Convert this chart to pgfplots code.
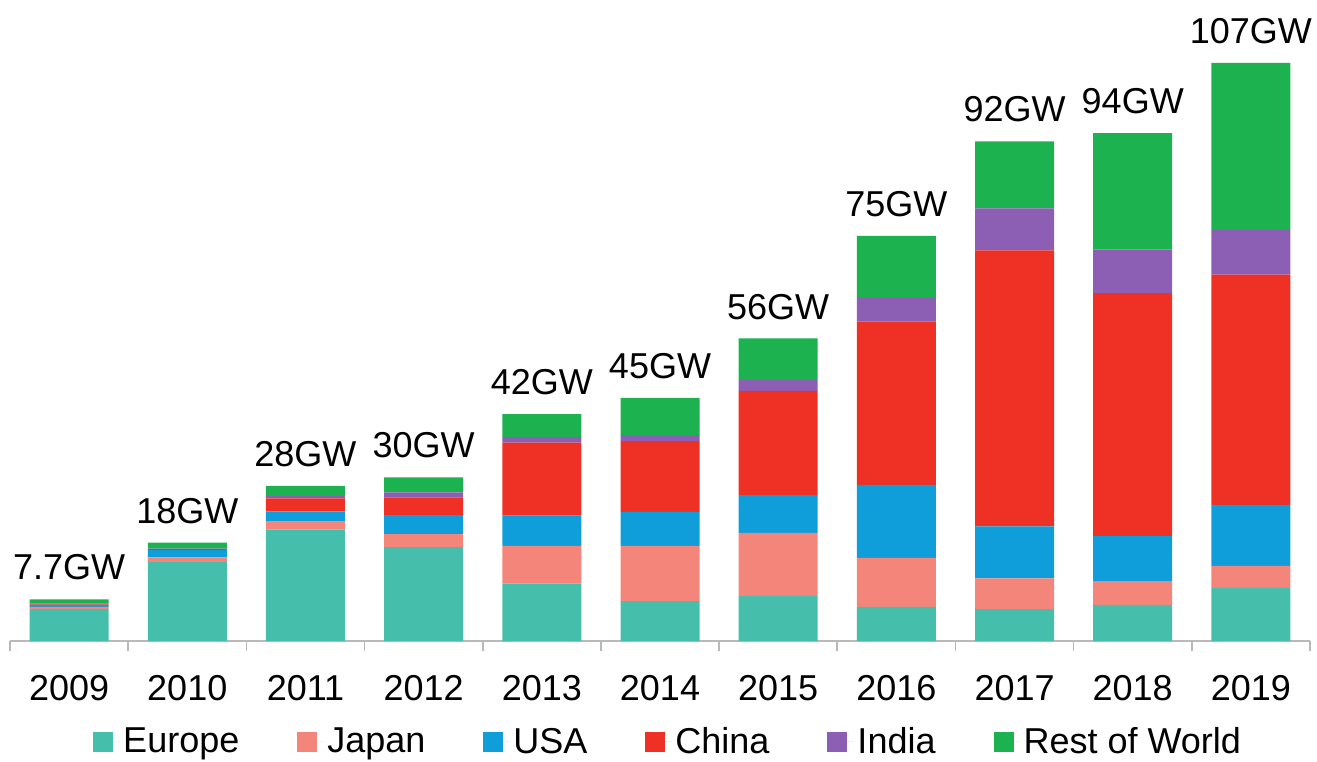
\documentclass[border=0pt]{standalone}
\usepackage{pgfplots}
\usepackage{pgfplotstable}
\usepackage{fontspec}
\setmainfont{Liberation Sans}
\pgfplotsset{compat=1.18}
\definecolor{cEU}{HTML}{45BFAC}
\definecolor{cJP}{HTML}{F3857A}
\definecolor{cUS}{HTML}{109EDA}
\definecolor{cCN}{HTML}{EE3124}
\definecolor{cIN}{HTML}{8C5EB4}
\definecolor{cRW}{HTML}{1CB250}
\pgfplotstableread{
x Europe Japan USA China India RoW Total label
0 5.9 0.4 0.4 0.1 0.1 0.8 7.7 7.7GW
1 14.6 0.9 1.3 0.2 0.1 1.1 18.2 18GW
2 20.6 1.5 1.9 2.4 0.4 1.9 28.7 28GW
3 17.4 2.4 3.5 3.3 0.9 2.8 30.3 30GW
4 10.6 7.0 5.6 13.5 1.1 4.2 42.0 42GW
5 7.4 10.2 6.3 13.1 1.1 6.9 45.0 45GW
6 8.3 11.7 7.0 19.3 2.0 7.7 56.0 56GW
7 6.3 9.1 13.5 30.2 4.4 11.5 75.0 75GW
8 5.9 5.7 9.6 51.1 7.8 12.4 92.5 92GW
9 6.7 4.4 8.3 45.0 8.1 21.5 94.0 94GW
10 9.8 4.1 11.3 42.6 8.3 30.9 107.0 107GW
}\data
\begin{document}
\begin{tikzpicture}
\useasboundingbox (-5pt,-60pt) rectangle (653.5pt,320.5pt);
\begin{axis}[
  at={(0,0)}, anchor=south west,
  scale only axis, width=650pt, height=315.5pt,
  xmin=-0.5, xmax=10.5, ymin=0, ymax=116.8,
  ybar stacked, bar width=39.5pt,
  hide y axis,
  axis x line*=bottom,
  x axis line style={draw=gray!55, line width=0.8pt},
  xtick={0,...,10},
  xticklabels={2009,2010,2011,2012,2013,2014,2015,2016,2017,2018,2019},
  major tick length=0pt,
  extra x ticks={-0.5,0.5,...,10.5},
  extra x tick labels={},
  extra x tick style={major tick length=5pt, tick align=outside, tick style={draw=gray!55, line width=0.8pt}},
  ticklabel style={font=\fontsize{18}{21}\selectfont},
  xticklabel style={yshift=-13.5pt},
  legend columns=6,
  legend style={draw=none, fill=none, at={(0.507,-0.16)}, anchor=center,
    font=\fontsize{18}{21}\selectfont, nodes={inner sep=2pt},
    /tikz/every even column/.append style={column sep=27pt}},
  legend image code/.code={\fill[#1] (0pt,-5pt) rectangle (10pt,5pt); \path (0pt,0pt) -- (13pt,0pt);},
]
\addplot[fill=cEU, draw=none] table[x=x,y=Europe]{\data};
\addplot[fill=cJP, draw=none] table[x=x,y=Japan]{\data};
\addplot[fill=cUS, draw=none] table[x=x,y=USA]{\data};
\addplot[fill=cCN, draw=none] table[x=x,y=China]{\data};
\addplot[fill=cIN, draw=none] table[x=x,y=India]{\data};
\addplot[fill=cRW, draw=none] table[x=x,y=RoW]{\data};
\legend{Europe,Japan,USA,China,India,Rest of World}
\end{axis}
\begin{axis}[
  at={(0,0)}, anchor=south west,
  scale only axis, width=650pt, height=315.5pt,
  xmin=-0.5, xmax=10.5, ymin=0, ymax=116.8,
  hide axis, clip=false,
  every node near coord/.append style={font=\fontsize{18}{21}\selectfont, anchor=south, yshift=6pt, black},
]
\addplot[only marks, mark=none, nodes near coords, point meta=explicit symbolic] table[x=x,y=Total,meta=label]{\data};
\end{axis}
\end{tikzpicture}
\end{document}
